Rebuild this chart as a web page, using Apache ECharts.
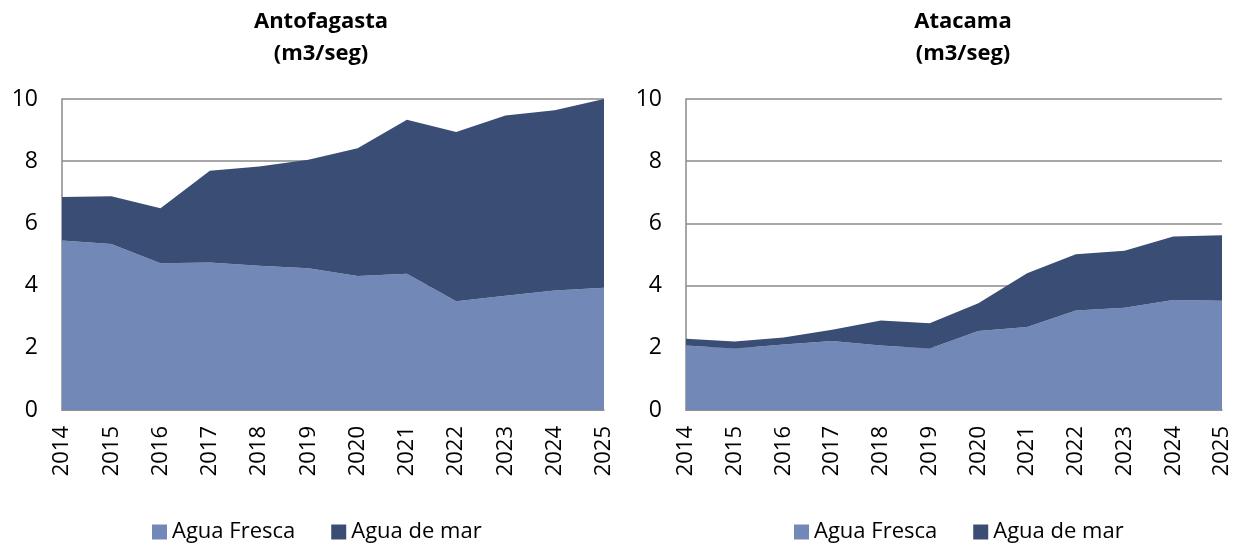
<!DOCTYPE html>
<html>
<head>
<meta charset="utf-8">
<script src="https://cdn.jsdelivr.net/npm/echarts@6/dist/echarts.min.js"></script>
<style>
  html, body { margin: 0; padding: 0; background: #fff; }
  #chart { width: 1238px; height: 546px; }
</style>
</head>
<body>
<div id="chart"></div>
<script>
const years = ['2014', '2015', '2016', '2017', '2018', '2019', '2020', '2021', '2022', '2023', '2024', '2025']
const yTicks = [0, 2, 4, 6, 8, 10]

// Antofagasta (m3/seg)
const antoFresca = [5.45, 5.34, 4.72, 4.74, 4.64, 4.56, 4.31, 4.38, 3.50, 3.67, 3.84, 3.93]
const antoMar = [1.40, 1.53, 1.77, 2.95, 3.19, 3.49, 4.11, 4.95, 5.44, 5.80, 5.80, 6.07]

// Atacama (m3/seg)
const ataFresca = [2.07, 1.98, 2.11, 2.22, 2.07, 1.98, 2.54, 2.67, 3.20, 3.29, 3.54, 3.51]
const ataMar = [0.22, 0.22, 0.22, 0.36, 0.81, 0.81, 0.89, 1.73, 1.81, 1.83, 2.04, 2.11]

const FONT = "'Open Sans', 'Noto Sans', sans-serif"
const COL_FRESCA = '#7289b7'
const COL_MAR = '#3a4d74'
const GRAY = '#8a8a8a'

function xAxisFor(idx) {
  return {
    type: 'category',
    gridIndex: idx,
    data: years,
    boundaryGap: false,
    axisLine: { show: true, lineStyle: { color: GRAY, width: 1.5 } },
    axisTick: { show: false },
    axisLabel: { rotate: 90, color: '#000', fontSize: 22, fontFamily: FONT, margin: 16 }
  }
}

function yAxisFor(idx) {
  return {
    type: 'value',
    gridIndex: idx,
    min: yTicks[0],
    max: yTicks[yTicks.length - 1],
    interval: 2,
    axisLine: { show: true, lineStyle: { color: GRAY, width: 1.5 } },
    axisTick: { show: false },
    splitLine: { lineStyle: { color: GRAY, width: 1.5 } },
    axisLabel: { color: '#000', fontSize: 23, fontFamily: FONT, margin: 24 }
  }
}

function area(name, data, idx, color) {
  return {
    name: name,
    type: 'line',
    xAxisIndex: idx,
    yAxisIndex: idx,
    stack: 'total' + idx,
    data: data,
    symbol: 'none',
    lineStyle: { width: 0 },
    areaStyle: { color: color, opacity: 1 },
    itemStyle: { color: color },
    z: 1
  }
}

const legendBase = {
  top: 516,
  itemWidth: 15,
  itemHeight: 15,
  itemGap: 36,
  icon: 'rect',
  textStyle: { fontSize: 22, fontFamily: FONT, color: '#000' },
  data: ['Agua Fresca', 'Agua de mar']
}

const titleStyle = { fontSize: 22, fontWeight: 'bold', fontFamily: FONT, color: '#000', lineHeight: 32 }

const option = {
  animation: false,
  title: [
    { text: 'Antofagasta\n(m3/seg)', left: 316, top: 1, textAlign: 'center', textStyle: titleStyle },
    { text: 'Atacama\n(m3/seg)', left: 958, top: 1, textAlign: 'center', textStyle: titleStyle }
  ],
  legend: [
    Object.assign({}, legendBase, { left: 147 }),
    Object.assign({}, legendBase, { left: 789 })
  ],
  grid: [
    { left: 62, right: 634, top: 99, bottom: 136 },
    { left: 686, right: 16, top: 99, bottom: 136 }
  ],
  xAxis: [xAxisFor(0), xAxisFor(1)],
  yAxis: [yAxisFor(0), yAxisFor(1)],
  series: [
    area('Agua Fresca', antoFresca, 0, COL_FRESCA),
    area('Agua de mar', antoMar, 0, COL_MAR),
    area('Agua Fresca', ataFresca, 1, COL_FRESCA),
    area('Agua de mar', ataMar, 1, COL_MAR)
  ]
}

const chart = echarts.init(document.getElementById('chart'))
chart.setOption(option)
</script>
</body>
</html>
